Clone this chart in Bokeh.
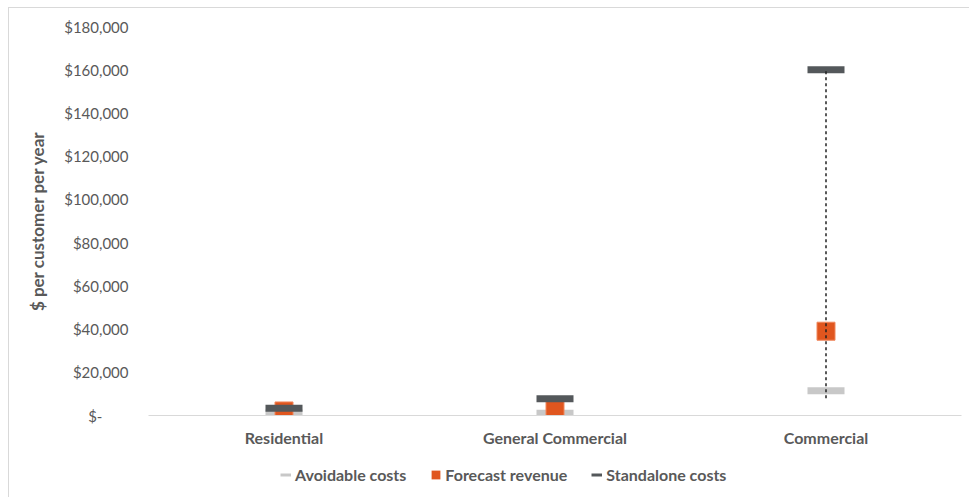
from bokeh.plotting import figure
from bokeh.layouts import column
from bokeh.models import (FactorRange, Range1d, FixedTicker, CustomJSTickFormatter,
                          Legend, LegendItem)
from bokeh.embed import file_html
from bokeh.resources import INLINE

categories = ["Residential", "General Commercial", "Commercial"]
avoidable_costs = [1200, 1000, 11500]
forecast_revenue = [2100, 2300, 39000]
standalone_costs = [3300, 7800, 160000]
range_category = ["Commercial"]
range_low = [8000]
range_high = [160000]
y_ticks = list(range(0, 180001, 20000))
series_names = ["Avoidable costs", "Forecast revenue", "Standalone costs"]

FONT = "Lato"
TEXT = "#595959"
LIGHT = "#C8C8C8"
ORANGE = "#E0561F"
DARK = "#54585B"

p = figure(x_range=FactorRange(*categories), y_range=Range1d(0, 180000),
           width=960, height=445, output_backend="svg", toolbar_location=None,
           min_border_left=139, min_border_right=8, min_border_top=18, min_border_bottom=38)
p.background_fill_color = "white"
p.border_fill_color = "white"
p.outline_line_color = None
p.xgrid.visible = False
p.ygrid.visible = False

# y axis
p.yaxis.ticker = FixedTicker(ticks=y_ticks)
p.yaxis.formatter = CustomJSTickFormatter(code="""
    if (tick == 0) { return '$-\u2007\u2007\u2007'; }
    return '$' + tick.toLocaleString('en-US');
""")
p.yaxis.axis_line_color = None
p.yaxis.major_tick_line_color = None
p.yaxis.minor_tick_line_color = None
p.yaxis.major_tick_out = 0
p.yaxis.major_tick_in = 0
p.yaxis.major_label_standoff = 20
p.yaxis.major_label_text_font = FONT
p.yaxis.major_label_text_font_size = "15px"
p.yaxis.major_label_text_color = TEXT
p.yaxis.axis_label = "$ per customer per year"
p.yaxis.axis_label_text_font = FONT
p.yaxis.axis_label_text_font_size = "17px"
p.yaxis.axis_label_text_font_style = "bold"
p.yaxis.axis_label_text_color = TEXT
p.yaxis.axis_label_standoff = 13

# x axis
p.xaxis.axis_line_color = "#d9d9d9"
p.xaxis.axis_line_width = 1
p.xaxis.major_tick_line_color = None
p.xaxis.minor_tick_line_color = None
p.xaxis.major_tick_out = 0
p.xaxis.major_tick_in = 0
p.xaxis.major_label_standoff = 12
p.xaxis.major_label_text_font = FONT
p.xaxis.major_label_text_font_size = "16px"
p.xaxis.major_label_text_font_style = "bold"
p.xaxis.major_label_text_color = TEXT

p.rect(x=categories, y=avoidable_costs, width=37, height=7,
       width_units="screen", height_units="screen",
       fill_color=LIGHT, line_color=None)
p.rect(x=categories, y=forecast_revenue, width=18, height=18,
       width_units="screen", height_units="screen",
       fill_color=ORANGE, line_color="#F0875C", line_width=1)
p.rect(x=categories, y=standalone_costs, width=37, height=7,
       width_units="screen", height_units="screen",
       fill_color=DARK, line_color=None)
p.segment(x0=range_category, y0=range_low, x1=range_category, y1=range_high,
          line_color="#222222", line_width=1.5, line_dash="3 3")

# legend strip below the chart
lf = figure(width=960, height=44, x_range=Range1d(0, 1), y_range=Range1d(0, 1),
            x_axis_type=None, y_axis_type=None, output_backend="svg",
            toolbar_location=None, min_border=0)
lf.outline_line_color = None
lf.xgrid.visible = False
lf.ygrid.visible = False
lf.background_fill_color = "white"
lf.border_fill_color = "white"

# one-point proxies: a one-point line and a zero-size rect draw nothing themselves
px_light = lf.line(x=[0], y=[0], line_color=LIGHT, line_width=3)
px_rev = lf.rect(x=[0], y=[0], width=0, height=0, fill_color=ORANGE, line_color=None)
px_dark = lf.line(x=[0], y=[0], line_color=DARK, line_width=3)

legend = Legend(items=[
    LegendItem(label=series_names[0], renderers=[px_light]),
    LegendItem(label=series_names[1], renderers=[px_rev]),
    LegendItem(label=series_names[2], renderers=[px_dark]),
], location=(132, 13), orientation="horizontal")
legend.glyph_width = 11
legend.glyph_height = 11
legend.label_height = 20
legend.label_standoff = 4
legend.spacing = 24
legend.padding = 0
legend.margin = 0
legend.border_line_color = None
legend.background_fill_alpha = 0
legend.label_text_font = FONT
legend.label_text_font_size = "16px"
legend.label_text_font_style = "bold"
legend.label_text_color = TEXT
lf.add_layout(legend)

layout = column(p, lf, spacing=0)
layout.styles = {"margin-left": "8px", "margin-top": "7px",
                 "border-left": "1px solid #d9d9d9", "border-top": "1px solid #d9d9d9"}

open("out.html", "w").write(file_html(layout, INLINE))
